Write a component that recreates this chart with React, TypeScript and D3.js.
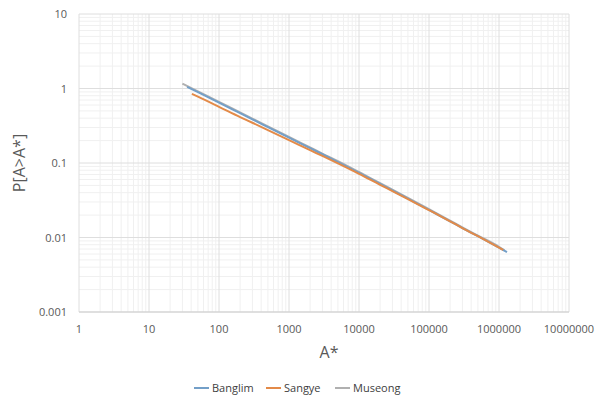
import React from "react";
import * as d3 from "d3";

// values (A*, P[A>A*])
const banglimA = [35, 50, 100, 200, 300, 500, 1000, 2000, 3000, 5000, 10000, 20000, 30000, 50000, 100000, 200000, 300000, 500000, 1000000, 1300000];
const banglimP = [1.05, 0.892, 0.647, 0.466, 0.385, 0.303, 0.219, 0.158, 0.131, 0.103, 0.0739, 0.0523, 0.0428, 0.0332, 0.0234, 0.0165, 0.0134, 0.0104, 0.00731, 0.00638];

const sangyeA = [41, 50, 100, 200, 300, 500, 1000, 2000, 3000, 5000, 10000, 20000, 30000, 50000, 100000, 200000, 300000, 500000, 1000000, 1150000];
const sangyeP = [0.846, 0.776, 0.568, 0.414, 0.347, 0.276, 0.203, 0.1485, 0.1243, 0.0987, 0.0715, 0.051, 0.042, 0.0328, 0.0233, 0.0165, 0.0134, 0.0104, 0.00731, 0.0068];

const museongA = [30, 50, 100, 200, 300, 500, 1000, 2000, 3000, 5000, 10000, 20000, 30000, 50000, 100000, 200000, 300000, 500000, 1000000, 1200000];
const museongP = [1.16, 0.914, 0.663, 0.478, 0.395, 0.311, 0.224, 0.162, 0.134, 0.106, 0.0757, 0.0536, 0.0439, 0.034, 0.024, 0.0169, 0.0137, 0.0106, 0.0075, 0.0067];

const xTicks = [1, 10, 100, 1000, 10000, 100000, 1000000, 10000000];
const yTicks = [0.001, 0.01, 0.1, 1, 10];
const seriesNames = ["Banglim", "Sangye", "Museong"];
const seriesColors = ["#739fc8", "#e38a48", "#b0b0b0"];
const drawOrder = [2, 0, 1];

const W = 600;
const H = 399;
const font = "'Open Sans', sans-serif";

export default function App() {
  const x = d3.scaleLog().domain([1, 1e7]).range([79, 569]);
  const y = d3.scaleLog().domain([0.001, 10]).range([312, 14]);

  const minorX: number[] = [];
  for (let d = 1; d < 1e7; d *= 10) for (let k = 2; k < 10; k++) minorX.push(d * k);
  const minorY: number[] = [];
  for (let d = 0.001; d < 9; d *= 10) for (let k = 2; k < 10; k++) minorY.push(d * k);

  const line = d3
    .line<[number, number]>()
    .x((d) => x(d[0]))
    .y((d) => y(d[1]))
    .curve(d3.curveMonotoneX);

  const series = [
    d3.zip(banglimA, banglimP) as [number, number][],
    d3.zip(sangyeA, sangyeP) as [number, number][],
    d3.zip(museongA, museongP) as [number, number][],
  ];

  const legendX = [194, 266, 335];

  return (
    <svg width={W} height={H} style={{ position: "absolute", left: 0, top: 0, background: "#fff" }}>
      <rect x={0} y={0} width={W} height={H} fill="#fff" />
      {minorX.map((v, i) => (
        <line key={"mx" + i} x1={x(v)} x2={x(v)} y1={y(10)} y2={y(0.001)} stroke="#f0f0f0" strokeWidth={1} />
      ))}
      {minorY.map((v, i) => (
        <line key={"my" + i} x1={x(1)} x2={x(1e7)} y1={y(v)} y2={y(v)} stroke="#f0f0f0" strokeWidth={1} />
      ))}
      {xTicks.map((v, i) => (
        <line key={"gx" + i} x1={x(v)} x2={x(v)} y1={y(10)} y2={y(0.001)} stroke="#dedede" strokeWidth={1} />
      ))}
      {yTicks.map((v, i) => (
        <line key={"gy" + i} x1={x(1)} x2={x(1e7)} y1={y(v)} y2={y(v)} stroke="#dedede" strokeWidth={1} />
      ))}
      <line x1={x(1)} x2={x(1e7)} y1={y(0.001)} y2={y(0.001)} stroke="#d0d0d0" strokeWidth={1.2} />

      {yTicks.map((v, i) => (
        <text key={"ty" + i} x={67} y={y(v) + 4} textAnchor="end" fontFamily={font} fontSize={11} fill="#595959">
          {String(v)}
        </text>
      ))}
      {xTicks.map((v, i) => (
        <text key={"tx" + i} x={x(v)} y={333} textAnchor="middle" fontFamily={font} fontSize={11} fill="#595959">
          {String(v)}
        </text>
      ))}
      <text x={329} y={358} textAnchor="middle" fontFamily={font} fontSize={16} fill="#595959">
        A*
      </text>
      <text
        transform="translate(25,163) rotate(-90)"
        textAnchor="middle"
        fontFamily={font}
        fontSize={16}
        fill="#595959"
      >
        P[A&gt;A*]
      </text>

      {drawOrder.map((i) => (
        <path key={"s" + i} d={line(series[i]) || ""} fill="none" stroke={seriesColors[i]} strokeWidth={2} strokeLinejoin="round" />
      ))}

      {seriesNames.map((n, i) => (
        <g key={"lg" + i}>
          <line x1={legendX[i]} x2={legendX[i] + 15} y1={388} y2={388} stroke={seriesColors[i]} strokeWidth={2} />
          <text x={legendX[i] + 18} y={392} fontFamily={font} fontSize={11} fill="#404040">
            {n}
          </text>
        </g>
      ))}
    </svg>
  );
}
